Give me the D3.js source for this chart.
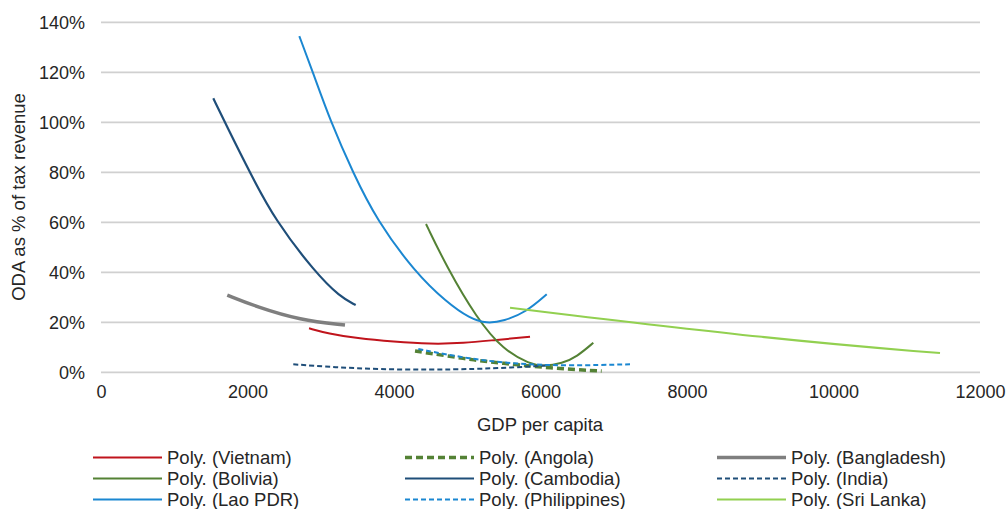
<!DOCTYPE html>
<html><head><meta charset="utf-8">
<script src="https://cdn.jsdelivr.net/npm/d3@7"></script>
<style>body{margin:0;background:#fff;}svg{display:block;font-family:"Liberation Sans",Arial,sans-serif;}</style>
</head><body><svg id="c" width="1006" height="509"></svg>
<script>
const xTicks = [0, 2000, 4000, 6000, 8000, 10000, 12000];
const yTicks = [0, 0.2, 0.4, 0.6, 0.8, 1.0, 1.2, 1.4];

const vietnam    = [[2840,0.176],[3100,0.155],[3491,0.136],[4000,0.122],[4491,0.113],[4946,0.116],[5402,0.130],[5857,0.142]];
const angola     = [[4287,0.085],[4719,0.066],[5083,0.049],[5492,0.036],[5948,0.022],[6539,0.009],[6835,0.005]];
const bangladesh = [[1724,0.309],[2126,0.262],[2717,0.209],[3331,0.189]];
const bolivia    = [[4437,0.593],[4719,0.422],[5129,0.216],[5492,0.089],[5857,0.033],[6038,0.024],[6300,0.036],[6494,0.062],[6721,0.118]];
const cambodia   = [[1533,1.096],[1716,0.985],[2057,0.785],[2375,0.61],[2922,0.40],[3263,0.302],[3477,0.269]];
const india      = [[2625,0.032],[3200,0.020],[3809,0.012],[4500,0.010],[5100,0.013],[5600,0.019],[6085,0.027]];
const lao        = [[2707,1.345],[2898,1.196],[3126,1.009],[3444,0.796],[3764,0.609],[4287,0.40],[4719,0.28],[5037,0.215],[5265,0.195],[5500,0.205],[5800,0.24],[6085,0.312]];
const philippines= [[4332,0.093],[5037,0.053],[5720,0.032],[6403,0.026],[7222,0.032]];
const sriLanka   = [[5584,0.258],[9270,0.129],[11454,0.077]];

const series = [
  {name:"Poly. (Vietnam)",     data:vietnam,     color:"#c0141c", w:2,   dash:null},
  {name:"Poly. (Angola)",      data:angola,      color:"#548235", w:3.5, dash:"7,4"},
  {name:"Poly. (Bangladesh)",  data:bangladesh,  color:"#7f7f7f", w:3.5, dash:null},
  {name:"Poly. (Bolivia)",     data:bolivia,     color:"#548235", w:2,   dash:null},
  {name:"Poly. (Cambodia)",    data:cambodia,    color:"#1f4e79", w:2.2, dash:null},
  {name:"Poly. (India)",       data:india,       color:"#1f4e79", w:2,   dash:"5,3"},
  {name:"Poly. (Lao PDR)",     data:lao,         color:"#1b87d1", w:2,   dash:null},
  {name:"Poly. (Philippines)", data:philippines, color:"#1b87d1", w:2,   dash:"5,3"},
  {name:"Poly. (Sri Lanka)",   data:sriLanka,    color:"#92d050", w:2,   dash:null}
];

const svg = d3.select("#c");
const x = d3.scaleLinear().domain([0,12000]).range([101,980]);
const y = d3.scaleLinear().domain([0,1.4]).range([372.3,22.3]);

// gridlines
svg.append("g").selectAll("line").data(yTicks).join("line")
  .attr("x1",x(0)).attr("x2",x(12000))
  .attr("y1",d=>y(d)).attr("y2",d=>y(d))
  .attr("stroke","#d0d0d0").attr("stroke-width",1.8);

// axes (text only)
const yAxis = svg.append("g").attr("transform","translate(85,0)")
  .call(d3.axisLeft(y).tickValues(yTicks).tickFormat(d3.format(".0%")).tickSize(0).tickPadding(0));
yAxis.select(".domain").remove();
yAxis.selectAll("text").attr("font-size",18).attr("fill","#262626").attr("font-family","Liberation Sans, Arial, sans-serif");

const xAxis = svg.append("g").attr("transform","translate(0,385)")
  .call(d3.axisBottom(x).tickValues(xTicks).tickFormat(d3.format("d")).tickSize(0).tickPadding(0));
xAxis.select(".domain").remove();
xAxis.selectAll("text").attr("font-size",18).attr("fill","#262626").attr("font-family","Liberation Sans, Arial, sans-serif");

// axis titles
svg.append("text").attr("x",540).attr("y",431).attr("text-anchor","middle")
  .attr("font-size",18.5).attr("fill","#262626").text("GDP per capita");
svg.append("text").attr("transform","translate(25,197) rotate(-90)").attr("text-anchor","middle")
  .attr("font-size",18.5).attr("fill","#262626").text("ODA as % of tax revenue");

// curves
const line = d3.line().x(d=>x(d[0])).y(d=>y(d[1])).curve(d3.curveBasis);
svg.append("g").selectAll("path").data(series).join("path")
  .attr("d",d=>line(d.data)).attr("fill","none")
  .attr("stroke",d=>d.color).attr("stroke-width",d=>d.w)
  .attr("stroke-dasharray",d=>d.dash);

// legend
const colX = [93, 405, 717];
const rowY = [457.5, 478.5, 499.5];
const lg = svg.append("g").selectAll("g").data(series).join("g")
  .attr("transform",(d,i)=>`translate(${colX[i%3]},${rowY[Math.floor(i/3)]})`);
lg.append("line").attr("x1",0).attr("x2",69).attr("y1",0).attr("y2",0)
  .attr("stroke",d=>d.color).attr("stroke-width",d=>d.w).attr("stroke-dasharray",d=>d.dash);
lg.append("text").attr("x",74).attr("y",0).attr("dy","0.35em")
  .attr("font-size",18.5).attr("fill","#262626").text(d=>d.name);
</script></body></html>
